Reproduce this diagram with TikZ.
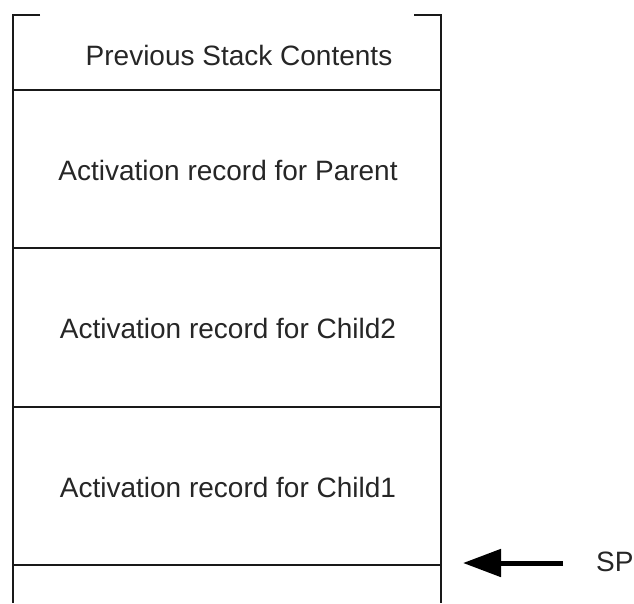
\documentclass[tikz,border=0pt]{standalone}
\usepackage{fontspec}
\setmainfont{Liberation Sans}
\usetikzlibrary{arrows.meta}
\begin{document}
\begin{tikzpicture}[x=1pt,y=-1pt,
  wall/.style={line width=2.2pt,black!90},
  lbl/.style={font=\fontsize{28}{32}\selectfont,text=black!85,inner sep=0pt},
  sptr/.style={line width=5pt,-{Triangle[length=38pt,width=27pt]}}]
\useasboundingbox (0,0) rectangle (634,603);
% stack walls with the open top corners
\draw[wall] (40,15) -- (13,15) -- (13,603);
\draw[wall] (414,15) -- (441,15) -- (441,603);
% record boundaries
\foreach \yy in {90,248,407,565} \draw[wall] (13,\yy) -- (441,\yy);
% record labels
\node[lbl] (prev)   at (239,55)  {Previous Stack Contents};
\node[lbl] (parent) at (228,170) {Activation record for Parent};
\node[lbl] (child2) at (228,328) {Activation record for Child2};
\node[lbl] (child1) at (228,487) {Activation record for Child1};
% stack pointer
\node[lbl,anchor=west] (sp) at (596,562) {SP};
\coordinate (tip) at (463,563);
\draw[sptr] (563,563) -- (tip);
\end{tikzpicture}
\end{document}
